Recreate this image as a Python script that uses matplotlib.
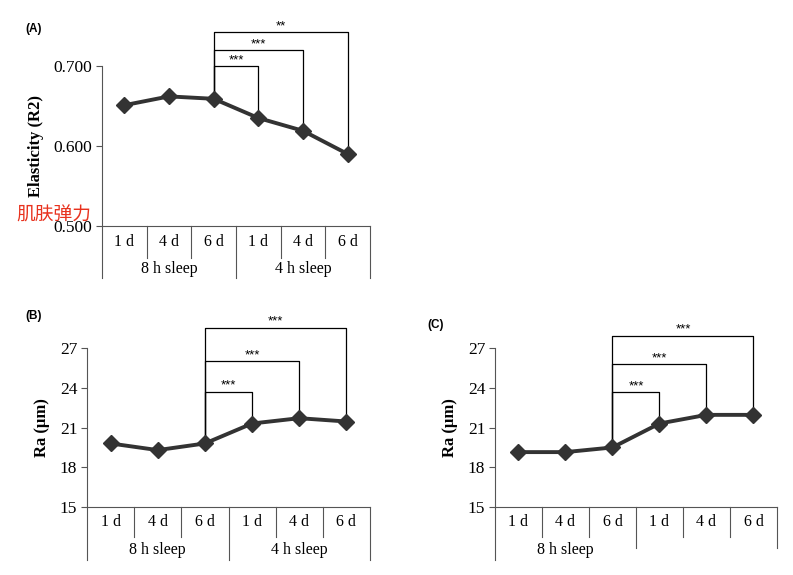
import matplotlib
matplotlib.use("Agg")
import matplotlib.pyplot as plt

days = ["1 d", "4 d", "6 d", "1 d", "4 d", "6 d"]
groups = ["8 h sleep", "4 h sleep"]

elasticity = [0.651, 0.662, 0.659, 0.635, 0.619, 0.590]
ra_b = [19.8, 19.3, 19.8, 21.3, 21.7, 21.45]
ra_c = [19.15, 19.15, 19.5, 21.3, 21.95, 21.95]

# brackets: (target index, top of bracket in data units, label)
brk_a = [(3, 0.700, "***"), (4, 0.720, "***"), (5, 0.742, "**")]
brk_b = [(3, 23.7, "***"), (4, 26.0, "***"), (5, 28.5, "***")]
brk_c = [(3, 23.65, "***"), (4, 25.75, "***"), (5, 27.9, "***")]

W, H = 793, 575
fig = plt.figure(figsize=(W / 100, H / 100), dpi=100)
serif = "Liberation Serif"
sans = "Liberation Sans"


def px_axes(l, t, r, b):
    return fig.add_axes([l / W, 1 - b / H, (r - l) / W, (b - t) / H])


def panel(ax, vals, ylim, yticks, yfmt, ylabel, brackets, hpx, row1, row2,
          partial=False):
    n = len(vals)
    xs = [i + 0.5 for i in range(n)]
    ax.set_xlim(0, n)
    ax.set_ylim(*ylim)
    ax.set_yticks(yticks)
    ax.set_yticklabels([yfmt.format(v) for v in yticks], fontfamily=serif,
                       fontsize=12.5)
    ax.set_xticks([])
    for s in ["top", "right", "bottom"]:
        ax.spines[s].set_visible(False)
    ax.spines["left"].set_linewidth(0.8)
    ax.spines["left"].set_color("#555555")
    ax.tick_params(axis="y", direction="out", length=4, width=0.8,
                   color="#555555", pad=3)
    ax.set_ylabel(ylabel, fontfamily=serif, fontweight="bold", fontsize=12,
                  labelpad=7)
    ax.patch.set_alpha(0)

    ax.plot(xs, vals, color="#333333", lw=2.8, marker="D", ms=8,
            mfc="#333333", mec="#333333", zorder=3, clip_on=False)

    # significance brackets from 6 d (8 h sleep)
    x0 = xs[2]
    for idx, top, lab in brackets:
        x1 = xs[idx]
        ax.plot([x0, x0, x1, x1], [vals[2], top, top, vals[idx]],
                color="black", lw=0.9, clip_on=False, zorder=2)
        ax.text((x0 + x1) / 2, top, lab, ha="center", va="bottom",
                fontfamily=sans, fontsize=9.5)

    # category table under the axis
    tr = ax.get_xaxis_transform()
    r1 = -row1 / hpx
    r2 = -row2 / hpx
    lc = "#555555"
    ax.plot([0, n], [0, 0], color=lc, lw=0.8, transform=tr, clip_on=False)
    for k in range(n + 1):
        if k in (0, 3, 6):
            lo = r2
            if partial and k > 0:
                lo = r2 + 12 / hpx
        else:
            lo = r1
        ax.plot([k, k], [0, lo], color=lc, lw=0.8, transform=tr,
                clip_on=False)
    for i, d in enumerate(days):
        ax.text(xs[i], r1 / 2, d, ha="center", va="center", transform=tr,
                fontfamily=serif, fontsize=11.5)
    for g, grp in enumerate(groups):
        if partial and g == 1:
            continue
        ax.text(1.5 + 3 * g, (r1 + r2) / 2 - 1 / hpx, grp, ha="center",
                va="center", transform=tr, fontfamily=serif, fontsize=11.5)


ax_a = px_axes(102, 66, 370, 226)
panel(ax_a, elasticity, (0.5, 0.7), [0.5, 0.6, 0.7], "{:.3f}",
      "Elasticity (R2)", brk_a, 160, 32, 52)

ax_b = px_axes(87, 347.7, 370, 507.3)
panel(ax_b, ra_b, (15, 27), [15, 18, 21, 24, 27], "{:d}", "Ra (µm)",
      brk_b, 159.6, 30, 53)

ax_c = px_axes(495, 347.7, 777, 507.3)
panel(ax_c, ra_c, (15, 27), [15, 18, 21, 24, 27], "{:d}", "Ra (µm)",
      brk_c, 159.6, 30, 53, partial=True)

fig.text(25 / W, 1 - 29 / H, "(A)", fontfamily=sans, fontweight="bold",
         fontsize=8.5, va="center", ha="left")
fig.text(25 / W, 1 - 316 / H, "(B)", fontfamily=sans, fontweight="bold",
         fontsize=8.5, va="center", ha="left")
fig.text(427 / W, 1 - 325 / H, "(C)", fontfamily=sans, fontweight="bold",
         fontsize=8.5, va="center", ha="left")
fig.text(54 / W, 1 - 215 / H, "肌肤弹力", fontfamily="Noto Sans CJK SC",
         fontsize=13.5, color="#e8321e", ha="center", va="center")

fig.savefig("out.png", dpi=100)
